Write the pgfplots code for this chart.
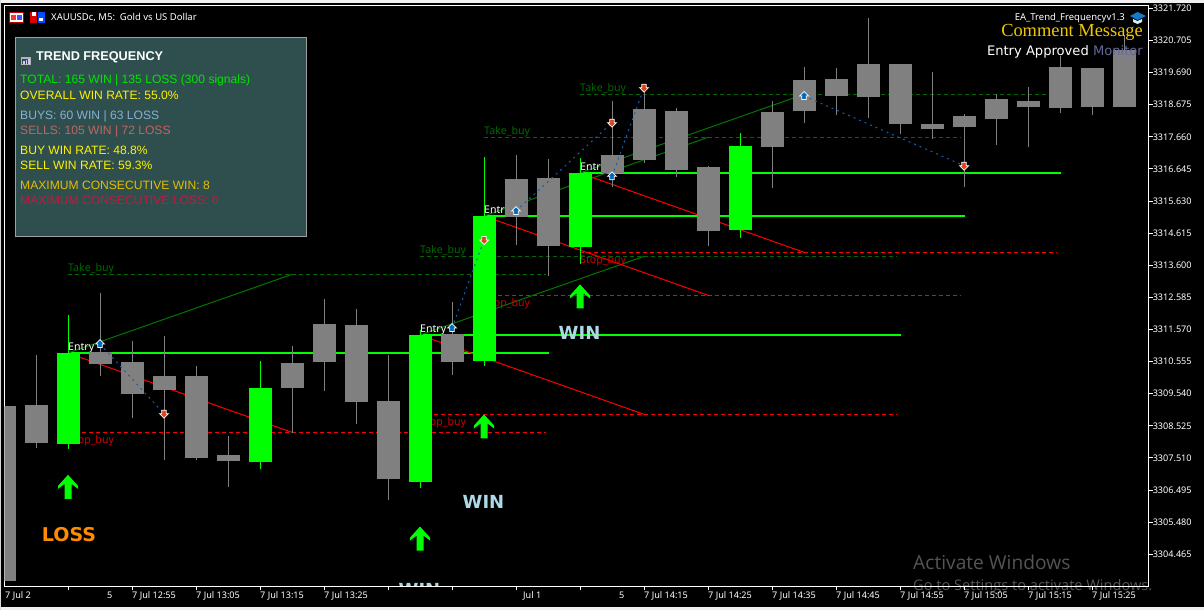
\documentclass[border=0pt]{standalone}
\usepackage{fontspec}
\usepackage{pgfplots}
\usepackage{pgfplotstable}
\pgfplotsset{compat=1.18}
\setmainfont{Liberation Sans}
\newfontfamily\uifont{Noto Sans}
\newfontfamily\serifont{Liberation Serif}
\newfontfamily\verafont{DejaVu Sans}
\newfontfamily\winfont{Open Sans}

\definecolor{panelbg}{HTML}{2F4F4F}
\definecolor{candlegray}{RGB}{128,128,128}
\definecolor{trendgreen}{RGB}{0,120,0}
\definecolor{takegreen}{RGB}{0,105,0}
\definecolor{stopred}{RGB}{205,0,0}
\definecolor{dotblue}{RGB}{20,95,175}
\definecolor{arrowblue}{RGB}{0,105,190}
\definecolor{arrowred}{RGB}{225,65,30}
\definecolor{winblue}{HTML}{ADD8E6}
\definecolor{buyblue}{RGB}{135,175,210}
\definecolor{sellred}{RGB}{195,100,100}
\definecolor{maxgold}{RGB}{230,190,0}
\definecolor{maxred}{RGB}{195,25,60}
\definecolor{commentgold}{RGB}{240,200,0}
\definecolor{lossorange}{RGB}{255,140,0}

% arrows are drawn in pt, 1pt = 1 pixel of the reference
\pgfdeclareplotmark{bigup}{%
  \pgfpathmoveto{\pgfqpoint{0pt}{12pt}}
  \pgfpathlineto{\pgfqpoint{10pt}{1pt}}
  \pgfpathlineto{\pgfqpoint{10pt}{-2pt}}
  \pgfpathlineto{\pgfqpoint{3.5pt}{3pt}}
  \pgfpathlineto{\pgfqpoint{3.5pt}{-12pt}}
  \pgfpathlineto{\pgfqpoint{-3.5pt}{-12pt}}
  \pgfpathlineto{\pgfqpoint{-3.5pt}{3pt}}
  \pgfpathlineto{\pgfqpoint{-10pt}{-2pt}}
  \pgfpathlineto{\pgfqpoint{-10pt}{1pt}}
  \pgfpathclose\pgfusepathqfill}
\pgfdeclareplotmark{smallup}{%
  \pgfpathmoveto{\pgfqpoint{0pt}{4.5pt}}
  \pgfpathlineto{\pgfqpoint{4.5pt}{0pt}}
  \pgfpathlineto{\pgfqpoint{2.2pt}{0pt}}
  \pgfpathlineto{\pgfqpoint{2.2pt}{-3.5pt}}
  \pgfpathlineto{\pgfqpoint{-2.2pt}{-3.5pt}}
  \pgfpathlineto{\pgfqpoint{-2.2pt}{0pt}}
  \pgfpathlineto{\pgfqpoint{-4.5pt}{0pt}}
  \pgfpathclose\pgfusepathqfillstroke}
\pgfdeclareplotmark{smalldown}{%
  \pgfpathmoveto{\pgfqpoint{0pt}{-4.5pt}}
  \pgfpathlineto{\pgfqpoint{4.5pt}{0pt}}
  \pgfpathlineto{\pgfqpoint{2.2pt}{0pt}}
  \pgfpathlineto{\pgfqpoint{2.2pt}{3.5pt}}
  \pgfpathlineto{\pgfqpoint{-2.2pt}{3.5pt}}
  \pgfpathlineto{\pgfqpoint{-2.2pt}{0pt}}
  \pgfpathlineto{\pgfqpoint{-4.5pt}{0pt}}
  \pgfpathclose\pgfusepathqfillstroke}

% x = bar number (5 minutes each), then wick low/high and body bottom/top
\pgfplotstableread{
x low high bot top
0 3303.619 3309.150 3303.619 3309.150
1 3307.823 3310.762 3307.981 3309.182
3 3310.098 3312.721 3310.477 3310.857
4 3308.771 3311.204 3309.529 3310.541
5 3307.443 3311.362 3309.656 3310.098
6 3307.443 3310.414 3307.506 3310.098
7 3306.590 3308.202 3307.412 3307.601
9 3308.297 3311.046 3309.719 3310.509
10 3309.624 3312.532 3310.541 3311.742
11 3308.581 3312.216 3309.276 3311.710
12 3306.179 3310.762 3306.843 3309.308
14 3310.130 3312.437 3310.541 3311.426
16 3314.239 3317.083 3315.123 3316.325
17 3313.259 3316.957 3314.207 3316.356
19 3316.072 3318.790 3316.514 3317.083
20 3316.830 3319.201 3316.925 3318.537
21 3316.388 3318.569 3316.609 3318.474
22 3314.207 3316.735 3314.681 3316.704
24 3316.040 3318.790 3317.336 3318.442
25 3318.094 3319.864 3318.474 3319.454
26 3318.347 3319.833 3318.948 3319.485
27 3318.252 3321.413 3318.916 3319.959
28 3317.747 3319.959 3318.063 3319.959
29 3317.589 3319.706 3317.905 3318.063
30 3316.072 3318.379 3317.968 3318.316
31 3317.399 3319.011 3318.221 3318.853
32 3317.336 3319.232 3318.600 3318.790
33 3318.411 3320.212 3318.569 3319.864
34 3318.347 3319.833 3318.600 3319.833
35 3318.600 3320.876 3318.600 3320.402
}\graybars
\pgfplotstableread{
x low high bot top
2 3307.791 3312.026 3307.949 3310.825
8 3307.159 3310.572 3307.380 3309.719
13 3306.558 3311.552 3306.748 3311.394
15 3310.414 3317.020 3310.572 3315.155
18 3313.638 3316.988 3314.175 3316.514
23 3314.460 3317.778 3314.713 3317.368
}\greenbars

\pgfplotsset{
  wicks/.style={draw=none,no markers,forget plot,
    error bars/.cd,y dir=plus,y explicit,error mark=none,
    error bar style={line width=1pt,color=#1}},
  bodies/.style={draw=none,no markers,forget plot,
    error bars/.cd,y dir=plus,y explicit,error mark=none,
    error bar style={line width=23pt,color=#1}},
  level/.style={#1,line width=1pt,dash pattern=on 3.5pt off 3.5pt},
}
\newcommand{\tickfont}{\uifont\fontsize{9.1}{11}\selectfont}
\newcommand{\headfont}{\uifont\fontsize{9.5}{12}\selectfont}
\newcommand{\levelfont}{\uifont\fontsize{10.6}{12}\selectfont}
\newcommand{\panelfont}{\fontsize{12.1}{14}\selectfont}
\newcommand{\lossfont}{\verafont\bfseries\fontsize{19}{24}\selectfont}
\newcommand{\winsize}{\verafont\bfseries\fontsize{18}{24}\selectfont}

\begin{document}
\begin{tikzpicture}[x=1pt,y=-1pt]
% window
\fill[black] (0,0) rectangle (1204,610);
\fill[gray!12] (0,0) rectangle (1204,3);
\fill[gray!12] (0,607) rectangle (1204,610);
\fill[gray!30] (0,0) rectangle (1,610);
% cut off by the lower edge of the chart
\begin{scope}
\clip (380,570) rectangle (460,586);
\node[font=\winsize,text=winblue,inner sep=0pt] at (419.5,590) {WIN};
\end{scope}

\begin{axis}[
  at={(4.5pt,-586pt)},anchor=south west,
  width=1144pt,height=580pt,scale only axis,
  xmin=0.0156,xmax=35.766,
  ymin=3303.462,ymax=3321.793,
  axis line style={white,line width=1pt},
  xtick pos=lower,ytick pos=right,yticklabel pos=right,
  tick align=outside,major tick length=4pt,
  tick style={white,line width=1pt},
  xtick={2,4,...,34},
  xticklabels={,7 Jul 12:55,7 Jul 13:05,7 Jul 13:15,7 Jul 13:25,,,,,7 Jul 14:15,7 Jul 14:25,7 Jul 14:35,7 Jul 14:45,7 Jul 14:55,7 Jul 15:05,7 Jul 15:15,7 Jul 15:25},
  ytick={3304.465,3305.480,3306.495,3307.510,3308.525,3309.540,3310.555,3311.570,3312.585,3313.600,3314.615,3315.630,3316.645,3317.660,3318.675,3319.690,3320.705,3321.720},
  yticklabels={3304.465,3305.480,3306.495,3307.510,3308.525,3309.540,3310.555,3311.570,3312.585,3313.600,3314.615,3315.630,3316.645,3317.660,3318.675,3319.690,3320.705,3321.720},
  tick label style={font=\tickfont,text=white,inner sep=0pt},
  xticklabel style={anchor=north west,yshift=-1.5pt},
  yticklabel style={anchor=west,xshift=0pt},
  clip=true,
]
% take profit levels
\addplot[level=takegreen] coordinates {(2,3313.312)(16.94,3313.312)};
\addplot[level=takegreen] coordinates {(13,3313.881)(27.9,3313.881)};
\addplot[level=takegreen] coordinates {(15,3317.642)(29.9,3317.642)};
\addplot[level=takegreen] coordinates {(18,3319.002)(32.9,3319.002)};
% stop levels
\addplot[level=red] coordinates {(2,3308.319)(16.94,3308.319)};
\addplot[level=red] coordinates {(13,3308.888)(27.9,3308.888)};
\addplot[level=red] coordinates {(15,3312.649)(29.9,3312.649)};
\addplot[level=red] coordinates {(18,3314.008)(32.9,3314.008)};
% entry levels
\addplot[green,line width=2pt] coordinates {(2,3310.825)(17.03,3310.825)};
\addplot[green,line width=2pt] coordinates {(13,3311.394)(28.02,3311.394)};
\addplot[green,line width=2pt] coordinates {(15,3315.155)(30.03,3315.155)};
\addplot[green,line width=2pt] coordinates {(18,3316.514)(33.02,3316.514)};
% entry to target
\addplot[trendgreen,line width=1pt] coordinates {(2,3310.825)(9,3313.312)};
\addplot[trendgreen,line width=1pt] coordinates {(13,3311.394)(20,3313.881)};
\addplot[trendgreen,line width=1pt] coordinates {(15,3315.155)(22,3317.642)};
\addplot[trendgreen,line width=1pt] coordinates {(18,3316.514)(25,3319.002)};
% entry to stop
\addplot[red,line width=1pt] coordinates {(2,3310.825)(9,3308.319)};
\addplot[red,line width=1pt] coordinates {(13,3311.394)(20,3308.888)};
\addplot[red,line width=1pt] coordinates {(15,3315.155)(22,3312.649)};
\addplot[red,line width=1pt] coordinates {(18,3316.514)(25,3314.008)};

% labels sit under the candles
\begin{scope}[every node/.style={font=\levelfont,inner sep=0pt,anchor=base west}]
\node[text=takegreen,yshift=2.5pt] at (axis cs:2,3313.312) {Take\_buy};
\node[text=takegreen,yshift=2.5pt] at (axis cs:13,3313.881) {Take\_buy};
\node[text=takegreen,yshift=2.5pt] at (axis cs:15,3317.642) {Take\_buy};
\node[text=takegreen,yshift=2.5pt] at (axis cs:18,3319.002) {Take\_buy};
\node[text=stopred,yshift=-11pt] at (axis cs:2,3308.319) {Stop\_buy};
\node[text=stopred,yshift=-11pt] at (axis cs:13,3308.888) {Stop\_buy};
\node[text=stopred,yshift=-11pt] at (axis cs:15,3312.649) {Stop\_buy};
\node[text=stopred,yshift=-11pt] at (axis cs:18,3314.008) {Stop\_buy};
\node[text=white,yshift=2.5pt] at (axis cs:2,3310.825) {Entry};
\node[text=white,yshift=2.5pt] at (axis cs:13,3311.394) {Entry};
\node[text=white,yshift=2.5pt] at (axis cs:15,3315.155) {Entry};
\node[text=white,yshift=2.5pt] at (axis cs:18,3316.514) {Entry};
\end{scope}

% candles
\addplot[wicks=candlegray] table[x=x,y=low,y error plus expr=\thisrow{high}-\thisrow{low}] {\graybars};
\addplot[bodies=candlegray] table[x=x,y=bot,y error plus expr=\thisrow{top}-\thisrow{bot}] {\graybars};
\addplot[wicks=green] table[x=x,y=low,y error plus expr=\thisrow{high}-\thisrow{low}] {\greenbars};
\addplot[bodies=green] table[x=x,y=bot,y error plus expr=\thisrow{top}-\thisrow{bot}] {\greenbars};

% trade connectors
\addplot[dotblue,line width=1pt,dash pattern=on 2pt off 4pt] coordinates {(3,3311.110)(5,3308.907)};
\addplot[dotblue,line width=1pt,dash pattern=on 2pt off 4pt] coordinates {(14,3311.615)(15,3314.397)};
\addplot[dotblue,line width=1pt,dash pattern=on 2pt off 4pt] coordinates {(16,3315.313)(19,3318.104)};
\addplot[dotblue,line width=1pt,dash pattern=on 2pt off 4pt] coordinates {(19,3316.410)(20,3319.210)};
\addplot[dotblue,line width=1pt,dash pattern=on 2pt off 4pt] coordinates {(25,3318.948)(30,3316.745)};
% open and close arrows
\addplot[only marks,mark=smallup,mark options={draw=white,fill=arrowblue,line width=0.7pt}] coordinates {(3,3311.110)(14,3311.615)(16,3315.313)(19,3316.410)(25,3318.948)};
\addplot[only marks,mark=smalldown,mark options={draw=white,fill=arrowred,line width=0.7pt}] coordinates {(5,3308.907)(15,3314.397)(19,3318.104)(20,3319.210)(30,3316.745)};
% signal arrows
\addplot[only marks,mark=bigup,mark options={fill=green,draw=none},green] coordinates {(2,3306.595)(13,3304.960)(15,3308.505)(18,3312.615)};
\end{axis}

% results
\node[font=\lossfont,text=lossorange,inner sep=0pt] at (69,535) {LOSS};
\node[font=\winsize,text=winblue,inner sep=0pt] at (483.5,502) {WIN};
\node[font=\winsize,text=winblue,inner sep=0pt] at (579.5,333) {WIN};

% tick label remains
\begin{scope}[every node/.style={font=\tickfont,text=white,inner sep=0pt,anchor=north west}]
\node at (5,591.5) {7 Jul 2};
\node at (107,591.5) {5};
\node at (523,591.5) {Jul 1};
\node at (619,591.5) {5};
\end{scope}

% header
\fill[red!75!black] (9,12) rectangle (24,23);
\fill[white] (10,13) rectangle (23,22);
\fill[red!80] (11,15) rectangle (16,20);
\fill[blue!70] (17,15) rectangle (22,20);
\fill[red!85!black] (30,12) rectangle (37,23);
\fill[white] (32,12) rectangle (36,16);
\fill[blue!70!cyan] (38,12) rectangle (45,23);
\fill[white] (39,18) rectangle (43,21);
\node[font=\headfont,text=white,anchor=base west,inner sep=0pt] at (51,21) {XAUUSDc, M5:\ \ Gold vs US Dollar};

% expert name and comment
\node[font=\headfont,text=white,anchor=base east,inner sep=0pt] at (1125,21) {EA\_Trend\_Frequencyv1.3};
\fill[cyan!60!blue] (1137.5,12) -- (1146,16) -- (1137.5,20) -- (1130,16) -- cycle;
\fill[white!80!cyan] (1133,19) -- (1137.5,21) -- (1142,19) -- (1142,22) -- (1137.5,24) -- (1133,22) -- cycle;
\node[font=\serifont\fontsize{18.4}{22}\selectfont,text=commentgold,anchor=base east,inner sep=0pt] at (1143,37) {Comment Message};
\node[font=\verafont\fontsize{13.1}{15}\selectfont,anchor=base east,inner sep=0pt] at (1143,55.5) {\textcolor{white}{Entry Approved} \textcolor{blue!20!gray}{Monitor}};

% statistics panel
\filldraw[fill=panelbg,draw=gray!75!white,line width=1pt] (15.5,37.5) rectangle (306,236);
\fill[gray!60] (21,57) rectangle (31,65);
\fill[panelbg] (22,59) rectangle (30,64);
\fill[blue!20!white] (23,61) rectangle (24.5,64);
\fill[blue!20!white] (25.5,60) rectangle (27,64);
\fill[blue!20!white] (28,59) rectangle (29.5,64);
\node[font=\bfseries\fontsize{12.7}{14}\selectfont,text=white,anchor=base west,inner sep=0pt] at (36,60) {TREND FREQUENCY};
\begin{scope}[every node/.style={font=\panelfont,anchor=base west,inner sep=0pt}]
\node[text=green!90!black] at (20,84) {TOTAL: 165 WIN | 135 LOSS (300 signals)};
\node[text=yellow] at (20,99) {OVERALL WIN RATE: 55.0\%};
\node[text=buyblue] at (20,119) {BUYS: 60 WIN | 63 LOSS};
\node[text=sellred] at (20,134) {SELLS: 105 WIN | 72 LOSS};
\node[text=yellow] at (20,154) {BUY WIN RATE: 48.8\%};
\node[text=yellow] at (20,169) {SELL WIN RATE: 59.3\%};
\node[text=maxgold] at (20,189) {MAXIMUM CONSECUTIVE WIN: 8};
\node[text=maxred] at (20,204) {MAXIMUM CONSECUTIVE LOSS: 6};
\end{scope}

% watermark
\node[font=\winfont\fontsize{19.2}{21}\selectfont,text=white,text opacity=0.33,anchor=base west,inner sep=0pt] at (913,569) {Activate Windows};
\node[font=\winfont\fontsize{14.6}{15}\selectfont,text=white,text opacity=0.33,anchor=base west,inner sep=0pt] at (913,590) {Go to Settings to activate Windows.};
\end{tikzpicture}
\end{document}
